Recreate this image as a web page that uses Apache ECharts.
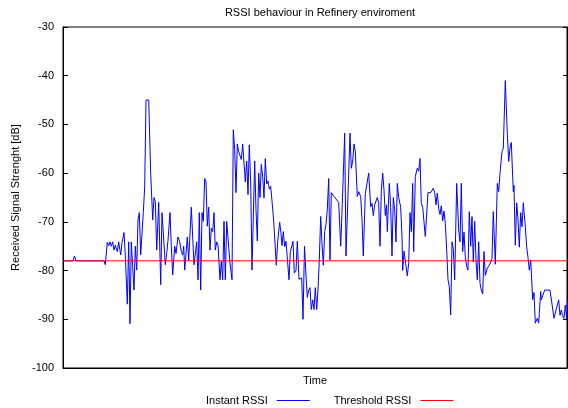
<!DOCTYPE html>
<html style="height: 100%">
  <head>
    <meta charset="utf-8" />
    <title>RSSI</title>
    <script src="https://cdn.jsdelivr.net/npm/echarts@6/dist/echarts.min.js"></script>
  </head>
  <body style="height: 100%; margin: 0; background: #fff">
    <div id="container" style="width: 568px; height: 408px"></div>

    <script type="text/javascript">
      // sample times (arbitrary units) and RSSI readings in dB
      var times = [
        0, 10, 11.5, 13, 41, 42.3,
        44.3, 45.7, 47, 48.3, 49.7, 51, 52.3, 54.3, 55.7, 57.7, 59, 61, 62.3, 64.3, 65.7, 67, 68.3, 69.7, 71, 72.3, 73.7, 75, 76.3, 77.7, 80.3, 81.7, 83, 85.7, 87.7, 89.7, 91, 92.3, 93.7, 95.7, 97.7, 99, 100.3, 102.3, 103.7, 105, 107, 108.3, 109.7, 111.7, 113, 115,
        116.7, 118.3, 119.7, 120.7, 121.7, 124.3, 125.7, 128.3, 131, 132.3, 133.7, 135, 136.3, 137.7, 139, 140.3, 141.7, 143, 144.3, 145.7, 147, 148.3, 149.7, 151, 152.3, 153.7, 155, 157, 158.3, 159.7, 161, 162.3, 163.7, 165, 167, 169, 170.3, 171.7, 173, 174.3, 175.7, 177, 178.3, 179.7, 181, 182.3, 183.7, 185, 186.3, 187.7, 189, 191.7, 193, 194.3,
        195.7, 197, 198.3, 199.7, 201, 202.3, 203.7, 205, 206.3, 207.7, 209.3, 210.7, 212, 213.3, 214.7, 216.7, 218, 219, 220.3, 221.7, 223, 224.5, 226, 227.3, 228.7, 230, 231.3, 233, 234.3, 236, 237.3, 238.7, 240, 241.5, 243, 244.3, 245.7, 247, 248.3, 249.7, 251, 252.3, 253.7, 255, 256.3, 257.7, 259, 260.3, 261.7, 263, 264.3, 265.7, 267, 268.3, 269.7, 271,
        273, 275.7, 277.7, 279, 281.7, 283, 287, 288.3, 289.7, 291, 292.3, 294.3, 295.7, 297.7, 299, 300.3, 302.3, 303.7, 305.7, 307.7, 309, 310.3, 311.7, 313, 314.3, 315.7, 317, 318.3, 319.7, 321, 322.3, 323.5, 324.3, 326.3, 327.7, 329, 330.3, 331.7, 333, 334.3, 335.7, 337.7, 339, 339.7, 341, 342.3, 344.3, 345.7, 347, 348.3, 349.7,
        350.7, 352.3, 354.3, 355.7, 357, 358.3, 359.7, 361, 362.3, 365, 367.7, 369.7, 370.3, 371.7, 373, 374.3, 375.7, 377, 378.3, 379.7, 381, 382.3, 383.7, 385, 386.3, 387.7, 389, 390.3, 391.7, 393.7, 395.7, 397, 398.3, 399.7, 401, 402.3, 403.7, 405, 406.3, 407.7, 409, 410.3, 411.7, 413, 414.3, 415.7, 417, 418.3, 419.7, 421, 422.3, 424.3, 426.3, 428.3,
        429, 430.3, 432.3, 434.3, 435.7, 437, 439, 440.3, 442.3, 444.3, 445.7, 447, 448.3, 450.3, 451, 452.3, 453.7, 455, 456.3, 457.7, 459, 460.3, 462.3, 463.7, 465, 466.3, 467.7, 469.7, 471, 472.3, 474.3, 475.7, 477.7, 478.3, 479.7, 481.7, 483.7, 487, 489, 491, 493, 494.3, 495.7, 497, 498.3, 499.7, 501, 502.3, 503.7, 504.5
      ];
      var rssi = [
        -78, -78, -77, -78, -78, -78.8,
        -74.2, -74.9, -74.1, -75, -74.1, -75.8, -74.8, -76.1, -74.1, -76.8, -74.3, -72.2, -76.8, -86.9, -74.1, -90.9, -74.1, -79.2, -84, -75, -79.9, -69.6, -68.1, -76.8, -68.1, -62.8, -45, -45, -60, -69.6, -65, -65.8, -75.8, -66, -82.9, -68.1, -72.3, -78.8, -76.5, -73.8, -68.1, -75, -80.9, -75, -76.5, -73.1,
        -74.1, -76.1, -76.8, -75, -79.9, -73.1, -77.9, -67, -78.8, -79, -74.1, -81.9, -68.1, -84, -68.1, -69.9, -61.1, -61.8, -70.9, -67, -75.8, -71.3, -72, -68.1, -75.8, -74.1, -74.8, -81.9, -78.1, -81.9, -69.9, -81.9, -69.9, -69.9, -78.5, -81.9, -51.1, -55.2, -64, -54, -55.6, -56, -57.2, -54, -54, -61.8, -57.5, -64.4, -54.2, -62, -79.9, -57.5, -67.6, -73.9,
        -60, -65, -58.2, -60.8, -65.1, -57, -62.2, -61.6, -63.3, -62.7, -66.4, -69.8, -70, -78.9, -74, -70.1, -72.4, -74.9, -72, -75.1, -74, -74, -81.9, -76.1, -76, -74, -80.5, -80, -74, -81.8, -82, -81.5, -90, -75, -80.9, -85.5, -84, -83.5, -88, -86, -88, -83.5, -88, -84, -77.8, -68.9, -74.5, -78.9, -72, -70.5, -67.5, -61.1, -77.8, -64, -64, -64.8,
        -64.8, -66, -75, -68, -51.8, -77, -51.8, -59, -57.5, -54, -55.5, -64.8, -63.8, -64.8, -69.6, -77, -64.2, -64.2, -60, -66.9, -66.2, -68.7, -66.5, -66.2, -65, -66.2, -75, -63.5, -60, -63.5, -68.7, -66.5, -72, -62.1, -67, -77, -65, -67.5, -74.1, -62.1, -65, -67, -73.1, -80, -76, -76, -81.1, -78.5, -68.1, -72, -62.1,
        -76.1, -60.7, -59, -59.6, -57, -66.2, -67, -67, -73, -64, -64, -64, -63.1, -64, -66.5, -64.1, -67.3, -68.5, -66.7, -69.8, -67.8, -70.3, -75.8, -81.9, -83.3, -89.1, -74.1, -75.5, -81.9, -62.1, -71.7, -74.1, -62.1, -76.1, -72.1, -77.2, -79.2, -79.9, -67.9, -75, -68.9, -78.2, -69.9, -77.8, -81.9, -74.1, -82.6, -84, -84.8, -76.1, -81, -79.5, -78.9, -78,
        -77.5, -67.9, -78.7, -62.1, -63.8, -60, -55.6, -54.9, -41, -51.8, -57.6, -54.8, -53.7, -63.8, -62.5, -74.8, -66.1, -69.5, -75.2, -68.1, -71, -66.1, -71, -75.2, -77.3, -79.9, -77.8, -86, -84.5, -90.8, -89.8, -90.8, -84.3, -86, -86, -84, -84, -84, -84, -89.8, -88.1, -88.1, -86, -89.2, -88.1, -89.3, -89.8, -87.1, -90, -86
      ];
      var threshold = -78;
      var yTicks = [-30, -40, -50, -60, -70, -80, -90, -100];

      var instant = times.map(function (t, i) { return [t, rssi[i]]; });
      var thresholdLine = [[times[0], threshold], [times[times.length - 1], threshold]];

      var font = 'Liberation Sans, Arial, Helvetica, sans-serif';
      var dom = document.getElementById('container');
      var myChart = echarts.init(dom, null, { renderer: 'canvas' });

      myChart.setOption({
        backgroundColor: '#fff',
        animation: false,
        title: {
          text: 'RSSI behaviour in Refinery enviroment',
          left: 315,
          top: 2,
          textAlign: 'center',
          textStyle: { fontFamily: font, fontSize: 11, fontWeight: 'normal', color: '#000' }
        },
        grid: {
          left: 63,
          right: 1,
          top: 27,
          bottom: 40,
          show: true,
          borderColor: '#000',
          borderWidth: 1
        },
        legend: {
          left: 201,
          top: 390,
          align: 'right',
          icon: 'rect',
          itemWidth: 33,
          itemHeight: 1,
          itemGap: 24,
          textStyle: { fontFamily: font, fontSize: 11, color: '#000', padding: [0, 4, 0, 0] },
          data: ['Instant RSSI', 'Threshold RSSI']
        },
        xAxis: {
          type: 'value',
          min: 0,
          max: 504,
          name: 'Time',
          nameLocation: 'middle',
          nameGap: 7,
          nameTextStyle: { fontFamily: font, fontSize: 11, color: '#000' },
          axisLine: { show: true, lineStyle: { color: '#000' } },
          axisTick: { show: false },
          axisLabel: { show: false },
          splitLine: { show: false }
        },
        yAxis: [
          {
            type: 'value',
            min: yTicks[yTicks.length - 1],
            max: yTicks[0],
            interval: 10,
            name: 'Received Signal Strenght [dB]',
            nameLocation: 'middle',
            nameGap: 41,
            nameTextStyle: { fontFamily: font, fontSize: 11, color: '#000' },
            axisLine: { show: true, lineStyle: { color: '#000' } },
            axisTick: { show: true, inside: true, length: 5, lineStyle: { color: '#000' } },
            axisLabel: { fontFamily: font, fontSize: 11, color: '#000', margin: 9 },
            splitLine: { show: false }
          },
          {
            type: 'value',
            position: 'right',
            min: yTicks[yTicks.length - 1],
            max: yTicks[0],
            interval: 10,
            axisLine: { show: true, lineStyle: { color: '#000' } },
            axisTick: { show: true, inside: true, length: 4, lineStyle: { color: '#000' } },
            axisLabel: { show: false },
            splitLine: { show: false }
          }
        ],
        series: [
          {
            name: 'Instant RSSI',
            type: 'line',
            data: instant,
            symbol: 'none',
            lineStyle: { color: '#0000ff', width: 1 },
            itemStyle: { color: '#0000ff' }
          },
          {
            name: 'Threshold RSSI',
            type: 'line',
            data: thresholdLine,
            symbol: 'none',
            lineStyle: { color: '#ff0000', width: 1 },
            itemStyle: { color: '#ff0000' }
          }
        ]
      });
    </script>
  </body>
</html>
